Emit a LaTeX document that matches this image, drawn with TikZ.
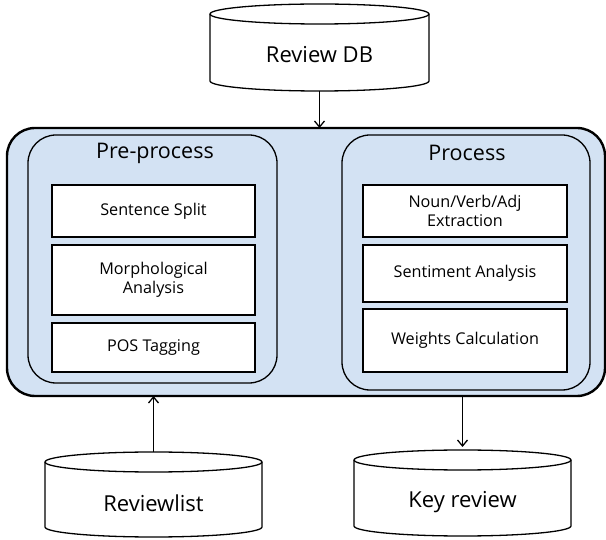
\documentclass[tikz,border=0pt]{standalone}
\usepackage{fontspec}
\setmainfont{Open Sans}
\usetikzlibrary{arrows.meta}
\definecolor{panelblue}{RGB}{211,226,243}
\tikzset{
  x=1pt, y=1pt,
  flow/.style={line width=1.3pt, -{Straight Barb[length=6pt,width=10pt,line width=1.3pt]}},
  cylline/.style={line width=1.3pt, fill=white},
  ghost/.style={inner sep=0pt, outer sep=0pt},
  outerpanel/.style={draw, line width=2.4pt, rounded corners=28pt, fill=panelblue, ghost},
  innerpanel/.style={draw, line width=1.3pt, rounded corners=28pt, ghost},
  stepbox/.style={draw, line width=1.3pt, fill=white, ghost, align=center, font=\fontsize{16.2}{19}\selectfont},
  paneltitle/.style={font=\fontsize{21.5}{25}\selectfont},
  dblabel/.style={font=\fontsize{22}{26}\selectfont},
}
\begin{document}
\begin{tikzpicture}
\useasboundingbox (0,0) rectangle (606,539);

% database cylinders: (left x, right x, top ellipse centre y, bottom ellipse centre y)
\newcommand{\storecyl}[4]{%
  \pgfmathsetmacro{\rx}{(#2-#1)/2}%
  \draw[cylline] (#1,#3) -- (#1,#4)
    arc[start angle=180, end angle=360, x radius=\rx, y radius=10]
    -- (#2,#3)
    arc[start angle=0, end angle=180, x radius=\rx, y radius=10] -- cycle;
  \draw[line width=1.3pt] (#1,#3) arc[start angle=180, end angle=360, x radius=\rx, y radius=10];
}

% Review DB
\storecyl{210}{429}{525}{458}
\node[ghost, minimum width=219pt, minimum height=88pt] (db) at (319.5,492) {};
\node[dblabel] (dbtext) at (319.5,484) {Review DB};

% Reviewlist
\storecyl{45}{262}{77}{12}
\node[ghost, minimum width=217pt, minimum height=85pt] (rl) at (153.5,44.5) {};
\node[dblabel] (rltext) at (153.5,36) {Reviewlist};

% Key review
\storecyl{354}{571}{79}{13}
\node[ghost, minimum width=217pt, minimum height=86pt] (kr) at (462.5,46) {};
\node[dblabel] (krtext) at (462.5,37) {Key review};

% main panel
\node[outerpanel, minimum width=598pt, minimum height=268pt] (main) at (306,277) {};

% Pre-process panel
\node[innerpanel, minimum width=249pt, minimum height=248pt] (pre) at (152.5,280) {};
\node[paneltitle] (pretitle) at (155,386) {Pre-process};
\node[stepbox, minimum width=203pt, minimum height=52pt] (split) at (153.5,328) {Sentence Split};
\node[stepbox, minimum width=203pt, minimum height=70pt] (morph) at (153.5,259) {Morphological\\Analysis};
\node[stepbox, minimum width=203pt, minimum height=49pt] (pos) at (153.5,191.5) {POS Tagging};

% Process panel
\node[innerpanel, minimum width=248pt, minimum height=255pt] (proc) at (466,276.5) {};
\node[paneltitle] (proctitle) at (467,386) {Process};
\node[stepbox, minimum width=204pt, minimum height=52pt] (nva) at (465,328) {Noun/Verb/Adj\\Extraction};
\node[stepbox, minimum width=204pt, minimum height=57pt] (senti) at (465,265.5) {Sentiment Analysis};
\node[stepbox, minimum width=204pt, minimum height=63pt] (wcalc) at (465,198.5) {Weights Calculation};

% connectors
\draw[flow] (db.south) -- (db.south |- main.north);
\draw[flow] (rl.north) -- (rl.north |- main.south);
\coordinate (krin) at ([yshift=3pt]kr.north);
\draw[flow] (krin |- main.south) -- (krin);
\end{tikzpicture}
\end{document}
